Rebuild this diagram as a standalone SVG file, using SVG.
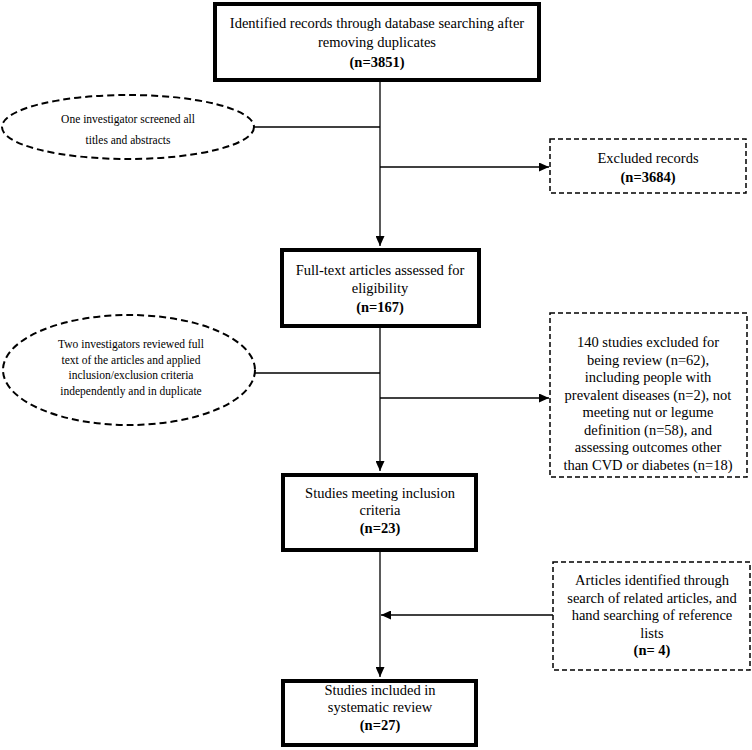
<svg xmlns="http://www.w3.org/2000/svg" width="752" height="750" viewBox="0 0 752 750">
<defs>
<style>
text{font-family:"Liberation Serif","Times New Roman",serif;fill:#000;text-anchor:middle}
.t{font-size:14.5px}
.s{font-size:11.5px}
.b{font-weight:bold}
.box{fill:#fff;stroke:#000;stroke-width:4}
.dbox{fill:#fff;stroke:#000;stroke-width:1.5;stroke-dasharray:5 3}
.ell{fill:#fff;stroke:#000;stroke-width:2;stroke-dasharray:7 4}
.ln{fill:none;stroke:#000;stroke-width:1.3}
</style>
<marker id="ah" markerUnits="userSpaceOnUse" markerWidth="11" markerHeight="9" refX="10" refY="4.5" orient="auto">
<path d="M0,0 L10,4.5 L0,9 Z" fill="#000"/>
</marker>
</defs>
<rect width="752" height="750" fill="#fff"/>
<g id="connectors">
<path class="ln" d="M380,82 V246" marker-end="url(#ah)"/>
<path class="ln" d="M254,127 H380"/>
<path class="ln" d="M380,167 H549" marker-end="url(#ah)"/>
<path class="ln" d="M380,328 V471" marker-end="url(#ah)"/>
<path class="ln" d="M255,373 H380"/>
<path class="ln" d="M380,398 H549" marker-end="url(#ah)"/>
<path class="ln" d="M380,552 V677" marker-end="url(#ah)"/>
<path class="ln" d="M553,615 H381" marker-end="url(#ah)"/>
</g>
<g id="identified">
<rect class="box" x="215" y="4" width="324" height="76"/>
<text class="t" x="377" y="28">Identified records through database searching after</text>
<text class="t" x="377" y="47">removing duplicates</text>
<text class="t b" x="377" y="67">(n=3851)</text>
</g>
<g id="screen1">
<ellipse class="ell" cx="128" cy="127" rx="126" ry="32"/>
<text class="s" x="128" y="123">One investigator screened all</text>
<text class="s" x="128" y="144">titles and abstracts</text>
</g>
<g id="excluded">
<rect class="dbox" x="550" y="139" width="196" height="54"/>
<text class="t" x="648" y="163">Excluded records</text>
<text class="t b" x="648" y="182">(n=3684)</text>
</g>
<g id="fulltext">
<rect class="box" x="282" y="250" width="197" height="76"/>
<text class="t" x="380" y="275">Full-text articles assessed for</text>
<text class="t" x="380" y="293">eligibility</text>
<text class="t b" x="380" y="312">(n=167)</text>
</g>
<g id="screen2">
<ellipse class="ell" cx="129" cy="370" rx="126" ry="55"/>
<text class="s" x="131" y="348">Two investigators reviewed full</text>
<text class="s" x="131" y="363.5">text of the articles and applied</text>
<text class="s" x="131" y="379">inclusion/exclusion criteria</text>
<text class="s" x="131" y="394.5">independently and in duplicate</text>
</g>
<g id="excluded140">
<rect class="dbox" x="550" y="313" width="197" height="164"/>
<text class="t" x="648" y="347">140 studies excluded for</text>
<text class="t" x="648" y="364.5">being review (n=62),</text>
<text class="t" x="648" y="382">including people with</text>
<text class="t" x="648" y="399.5">prevalent diseases (n=2), not</text>
<text class="t" x="648" y="417">meeting nut or legume</text>
<text class="t" x="648" y="434.5">definition (n=58), and</text>
<text class="t" x="648" y="452">assessing outcomes other</text>
<text class="t" x="648" y="469.5">than CVD or diabetes (n=18)</text>
</g>
<g id="meeting">
<rect class="box" x="283" y="475" width="193" height="75"/>
<text class="t" x="380" y="498">Studies meeting inclusion</text>
<text class="t" x="380" y="515">criteria</text>
<text class="t b" x="380" y="533">(n=23)</text>
</g>
<g id="articles">
<rect class="dbox" x="553" y="562" width="197" height="108"/>
<text class="t" x="652" y="585">Articles identified through</text>
<text class="t" x="652" y="602.5">search of related articles, and</text>
<text class="t" x="652" y="620">hand searching of reference</text>
<text class="t" x="652" y="637.5">lists</text>
<text class="t b" x="652" y="655">(n= 4)</text>
</g>
<g id="included">
<rect class="box" x="283" y="681" width="193" height="64"/>
<text class="t" x="380" y="695">Studies included in</text>
<text class="t" x="380" y="712">systematic review</text>
<text class="t b" x="380" y="730">(n=27)</text>
</g>
</svg>
